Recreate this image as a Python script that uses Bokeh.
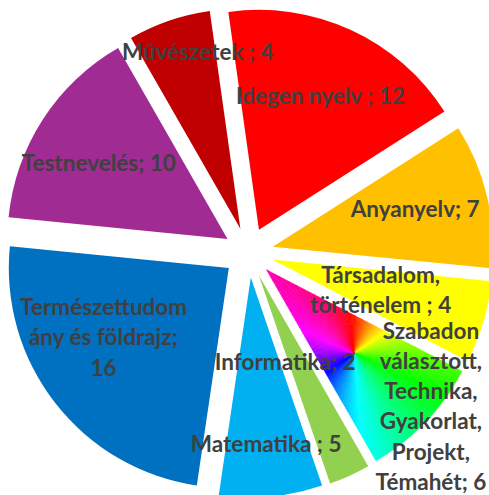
import math
import colorsys
from bokeh.plotting import figure
from bokeh.models import Range1d, ColumnDataSource
from bokeh.embed import file_html
from bokeh.resources import INLINE
from bokeh.core.properties import value

# ---------------- data ----------------
categories = ["Idegen nyelv", "Anyanyelv", "Társadalom, történelem",
              "Szabadon választott, Technika, Gyakorlat, Projekt, Témahét",
              "Informatika", "Matematika", "Természettudomány és földrajz",
              "Testnevelés", "Művészetek"]
hours = [12, 7, 4, 6, 2, 5, 16, 10, 4]
label_texts = ["Idegen nyelv ; 12", "Anyanyelv; 7", "Társadalom,\ntörténelem ; 4",
               "Szabadon\nválasztott,\nTechnika,\nGyakorlat,\nProjekt,\nTémahét; 6",
               "Informatika; 2", "Matematika ; 5",
               "Természettudom\nány és földrajz;\n16",
               "Testnevelés; 10", "Művészetek ; 4"]
slice_colors = ["#FF0000", "#FFC000", "#FFFF00", "rainbow", "#92D050",
                "#00B0F0", "#0070C0", "#A02B93", "#C00000"]

# ---------------- style / geometry ----------------
W, H = 489, 495
CX, CY = 248.0, -252.0      # pie centre (px from top-left, y negated)
R = 220.0
EXPLODE = 25.0
START = -8.0                # degrees clockwise from 12 o'clock
label_r = [0.67, 0.67, 0.51, 0.97, 0.41, 0.76, 0.65, 0.68, 0.83]
label_dang = [0.0, -1.6, -1.2, -4.2, 7.4, 0.0, 9.1, -2.3, 5.4]
GRAD_POS = 0.55
FONT = "Lato"
FONT_SIZE = "22.5px"
TEXT_COLOR = "#404040"

p = figure(width=W, height=H, output_backend="svg", toolbar_location=None,
           x_range=Range1d(0, W), y_range=Range1d(-H, 0),
           min_border=0, outline_line_color=None)
p.axis.visible = False
p.grid.visible = False
p.background_fill_color = "white"
p.border_fill_color = "white"

total = float(sum(hours))


def unit(theta_deg):
    t = math.radians(theta_deg)
    return math.sin(t), math.cos(t)


def clip(subject, clip_poly):
    # Sutherland-Hodgman for convex clip polygon
    area = 0.0
    n = len(clip_poly)
    for i in range(n):
        x1, y1 = clip_poly[i]
        x2, y2 = clip_poly[(i + 1) % n]
        area += x1 * y2 - x2 * y1
    sgn = 1.0 if area > 0 else -1.0
    out = subject
    for i in range(n):
        a = clip_poly[i]
        b = clip_poly[(i + 1) % n]

        def inside(pt):
            return sgn * ((b[0] - a[0]) * (pt[1] - a[1]) - (b[1] - a[1]) * (pt[0] - a[0])) >= 0

        def inter(p1, p2):
            x1, y1 = p1
            x2, y2 = p2
            x3, y3 = a
            x4, y4 = b
            den = (x1 - x2) * (y3 - y4) - (y1 - y2) * (x3 - x4)
            if abs(den) < 1e-12:
                return p2
            t = ((x1 - x3) * (y3 - y4) - (y1 - y3) * (x3 - x4)) / den
            return (x1 + t * (x2 - x1), y1 + t * (y2 - y1))

        inp = out
        out = []
        if not inp:
            break
        prev = inp[-1]
        for cur in inp:
            if inside(cur):
                if not inside(prev):
                    out.append(inter(prev, cur))
                out.append(cur)
            elif inside(prev):
                out.append(inter(prev, cur))
            prev = cur
    return out


cum = START
wx, wy, ws, we, wc = [], [], [], [], []
lx, ly, lt = [], [], []
for i, v in enumerate(hours):
    span = v / total * 360.0
    t0, t1 = cum, cum + span
    mid = (t0 + t1) / 2.0
    cum = t1
    ux, uy = unit(mid)
    ax, ay = CX + EXPLODE * ux, CY + EXPLODE * uy
    if slice_colors[i] == "rainbow":
        poly = [(ax, ay)]
        steps = 60
        for k in range(steps + 1):
            sx, sy = unit(t0 + span * k / steps)
            poly.append((ax + R * sx, ay + R * sy))
        gx, gy = ax + GRAD_POS * R * ux, ay + GRAD_POS * R * uy
        xs, ys, cs = [], [], []
        N = 180
        for k in range(N):
            p0 = k * 360.0 / N
            p1 = (k + 1) * 360.0 / N
            e0 = unit(p0)
            e1 = unit(p1)
            tri = [(gx, gy), (gx + 1000 * e0[0], gy + 1000 * e0[1]),
                   (gx + 1000 * e1[0], gy + 1000 * e1[1])]
            piece = clip(poly, tri)
            if len(piece) >= 3:
                hue = (((p0 + p1) / 2.0 + 5.0) % 360.0) / 360.0
                r, g, b = colorsys.hsv_to_rgb(hue, 1.0, 1.0)
                col = "#%02x%02x%02x" % (int(r * 255), int(g * 255), int(b * 255))
                xs.append([q[0] for q in piece])
                ys.append([q[1] for q in piece])
                cs.append(col)
        p.patches(xs=xs, ys=ys, fill_color=cs, line_color=cs, line_width=0.6)
    else:
        wx.append(ax)
        wy.append(ay)
        ws.append(math.radians(90.0 - t1))
        we.append(math.radians(90.0 - t0))
        wc.append(slice_colors[i])
    la = mid + label_dang[i]
    lux, luy = unit(la)
    lx.append(ax + label_r[i] * R * lux)
    ly.append(ay + label_r[i] * R * luy)
    lt.append(label_texts[i])

src = ColumnDataSource(dict(x=wx, y=wy, s=ws, e=we, c=wc))
p.wedge(x="x", y="y", radius=R, start_angle="s", end_angle="e", fill_color="c",
        line_color=None, source=src)

lsrc = ColumnDataSource(dict(x=lx, y=ly, t=lt))
p.text(x="x", y="y", text="t", source=lsrc, text_font=value(FONT),
       text_font_style="bold", text_font_size=FONT_SIZE, text_color=TEXT_COLOR,
       text_align="center", text_baseline="middle", text_line_height=1.115)

open("out.html", "w").write(file_html(p, INLINE))
